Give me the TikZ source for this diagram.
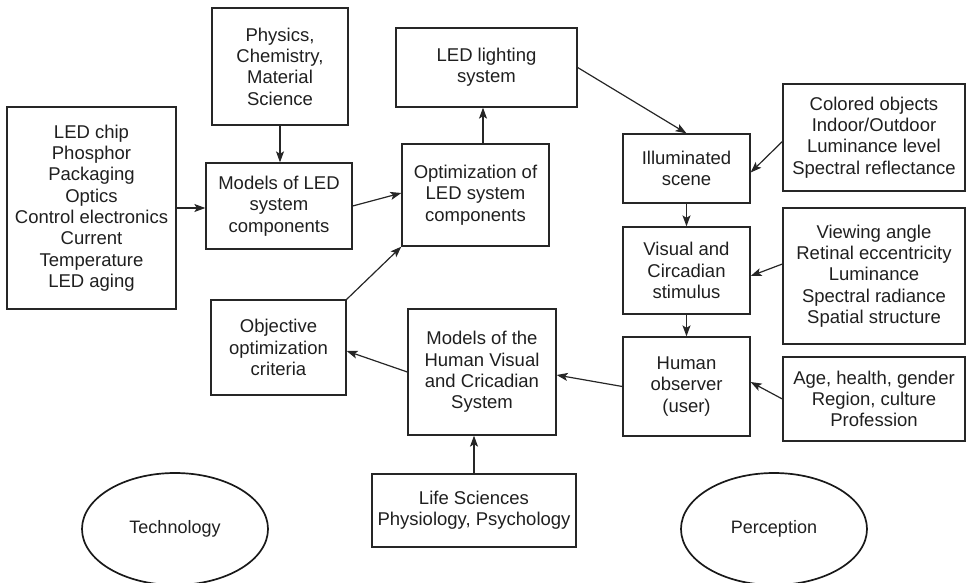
\documentclass[tikz,border=0pt]{standalone}
\usepackage{fontspec}
\setmainfont{Liberation Sans}
\usetikzlibrary{arrows.meta,shapes.geometric}

\tikzset{
  box/.style={draw=black!85, line width=1.3pt, rectangle, align=center,
    inner sep=0pt, text=black!88,
    font=\fontsize{18.5}{21.3}\selectfont},
  oval/.style={draw=black!90, line width=1.7pt, ellipse, inner sep=0pt,
    text=black!88, font=\fontsize{18}{21}\selectfont},
  flow/.style={draw=black!85, line width=1.2pt,
    -{Stealth[length=11pt,width=8pt,inset=2.5pt]}}
}

\begin{document}
\begin{tikzpicture}[x=1pt,y=-1pt]
\useasboundingbox (0,0) rectangle (967,582);

% technology side
\node[box, minimum width=169pt, minimum height=202pt] (inputs) at (91.5,208)
  {LED chip\\Phosphor\\Packaging\\Optics\\Control electronics\\Current\\Temperature\\LED aging};
\node[box, minimum width=136pt, minimum height=117pt] (phys) at (280,66.5)
  {Physics,\\Chemistry,\\Material\\Science};
\node[box, minimum width=146pt, minimum height=86pt] (mled) at (279,206)
  {Models of LED\\system\\components};
\node[box, minimum width=181pt, minimum height=79pt] (led) at (486.5,67.5)
  {LED lighting\\system};
\node[box, minimum width=147pt, minimum height=102pt] (opt) at (475.5,195)
  {Optimization of\\LED system\\components};
\node[box, minimum width=135pt, minimum height=95pt] (obj) at (278.5,347.5)
  {Objective\\optimization\\criteria};
\node[box, minimum width=148pt, minimum height=126pt] (mhum) at (482,372)
  {Models of the\\Human Visual\\and Cricadian\\System};
\node[box, minimum width=204pt, minimum height=73pt] (life) at (474,510.5)
  {Life Sciences\\Physiology, Psychology};

% perception side
\node[box, minimum width=127pt, minimum height=69pt] (ill) at (686.5,168.5)
  {Illuminated\\scene};
\node[box, minimum width=182pt, minimum height=107pt] (col) at (874,137.5)
  {Colored objects\\Indoor/Outdoor\\Luminance level\\Spectral reflectance};
\node[box, minimum width=127pt, minimum height=87pt] (vis) at (686.5,270.5)
  {Visual and\\Circadian\\stimulus};
\node[box, minimum width=182pt, minimum height=136pt] (view) at (874,276)
  {Viewing angle\\Retinal eccentricity\\Luminance\\Spectral radiance\\Spatial structure};
\node[box, minimum width=127pt, minimum height=99pt] (hum) at (686.5,386.5)
  {Human\\observer\\(user)};
\node[box, minimum width=182pt, minimum height=84pt] (age) at (874,399)
  {Age, health, gender\\Region, culture\\Profession};

% domain labels
\node[oval, minimum width=186pt, minimum height=112pt] (tech) at (175,529) {Technology};
\node[oval, minimum width=186pt, minimum height=112pt] (perc) at (774,529) {Perception};

% connectors
\draw[flow] (inputs.east) -- (inputs.east -| mled.west);
\draw[flow] (phys.south) -- (phys.south |- mled.north);
\draw[flow] (mled.east) -- ([yshift=2pt]opt.west);
\draw[flow] (obj.north east) -- (opt.south west);
\draw[flow] ([xshift=7.5pt]opt.north) -- ([xshift=7.5pt]opt.north |- led.south);
\draw[flow] (led.east) -- (ill.north);
\draw[flow] ([yshift=-4pt]col.west) -- ([yshift=-4pt]ill.east);
\draw[flow] (ill.south) -- (vis.north);
\draw[flow] ([yshift=12pt]view.west) -- ([yshift=-5.5pt]vis.east);
\draw[flow] (vis.south) -- (hum.north);
\draw[flow] (age.west) -- ([yshift=4.5pt]hum.east);
\draw[flow] (hum.west) -- ([yshift=-3pt]mhum.east);
\draw[flow] (mhum.west) -- ([yshift=-3.5pt]obj.east);
\draw[flow] (life.north) -- (life.north |- mhum.south);
\end{tikzpicture}
\end{document}
